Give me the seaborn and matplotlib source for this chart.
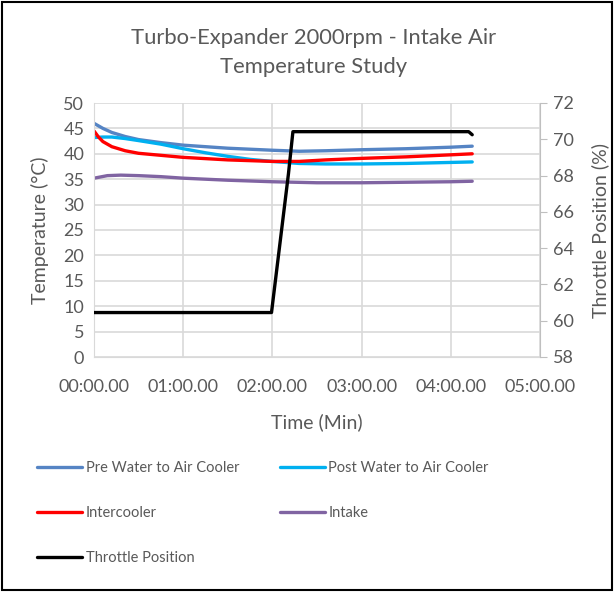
import numpy as np
import matplotlib
matplotlib.use("Agg")
import matplotlib.pyplot as plt
import seaborn as sns
from matplotlib.ticker import FuncFormatter, MultipleLocator
from matplotlib.patches import Rectangle

# Datos (tiempo en minutos)
t_pre = [0.0, 0.1, 0.2, 0.35, 0.5, 0.75, 1.0, 1.5, 2.0, 2.3, 2.6, 3.0, 3.5, 4.0, 4.24]
pre_water = [46.0, 45.0, 44.2, 43.4, 42.8, 42.2, 41.7, 41.1, 40.7, 40.5, 40.6, 40.8, 41.0, 41.3, 41.5]

t_post = [0.0, 0.1, 0.2, 0.35, 0.5, 0.75, 1.0, 1.25, 1.5, 1.75, 2.0, 2.3, 2.6, 3.0, 3.5, 4.0, 4.24]
post_water = [43.2, 43.3, 43.3, 43.0, 42.6, 41.9, 41.0, 40.2, 39.5, 38.9, 38.5, 38.1, 38.0, 38.0, 38.1, 38.3, 38.4]

t_inter = [0.0, 0.05, 0.1, 0.2, 0.35, 0.5, 0.75, 1.0, 1.5, 2.0, 2.3, 2.6, 3.0, 3.5, 4.0, 4.24]
intercooler = [44.5, 43.3, 42.4, 41.4, 40.6, 40.1, 39.7, 39.3, 38.8, 38.5, 38.5, 38.8, 39.1, 39.4, 39.8, 40.0]

t_intake = [0.0, 0.15, 0.3, 0.5, 0.75, 1.0, 1.5, 2.0, 2.5, 3.0, 3.5, 4.0, 4.24]
intake = [35.2, 35.7, 35.8, 35.7, 35.5, 35.2, 34.8, 34.5, 34.3, 34.3, 34.4, 34.5, 34.6]

t_throttle = [0.0, 1.0, 1.99, 2.18, 2.23, 3.0, 4.0, 4.2, 4.24]
throttle = [60.45, 60.45, 60.45, 68.1, 70.42, 70.42, 70.42, 70.42, 70.25]

colores = {
    "Pre Water to Air Cooler": "#5584C4",
    "Post Water to Air Cooler": "#00B0F0",
    "Intercooler": "#FF0000",
    "Intake": "#8064A2",
    "Throttle Position": "#000000",
}

gris = "#595959"
sns.set_style("white")
plt.rcParams["font.family"] = ["Lato", "DejaVu Sans"]

fig = plt.figure(figsize=(6.14, 5.92), dpi=100)
ax = fig.add_axes([94 / 614, 1 - 357 / 592, (540 - 94) / 614, (357 - 103) / 592])
ax2 = ax.twinx()

lw = 2.4
series = [
    (t_pre, pre_water, "Pre Water to Air Cooler"),
    (t_post, post_water, "Post Water to Air Cooler"),
    (t_inter, intercooler, "Intercooler"),
    (t_intake, intake, "Intake"),
]
for x, y, nombre in series:
    sns.lineplot(x=x, y=y, ax=ax, color=colores[nombre], linewidth=lw, label=nombre, legend=False)

sns.lineplot(x=t_throttle, y=throttle, ax=ax2, color=colores["Throttle Position"],
             linewidth=lw, label="Throttle Position", legend=False)

# Ejes
ax.set_xlim(0, 5)
ax.set_ylim(0, 50)
ax2.set_ylim(58, 72)
ax.xaxis.set_major_locator(MultipleLocator(1))
ax.yaxis.set_major_locator(MultipleLocator(5))
ax2.yaxis.set_major_locator(MultipleLocator(2))
ax.xaxis.set_major_formatter(FuncFormatter(lambda v, p: f"{int(v):02d}:00.00"))

ax.grid(True, color="#D9D9D9", linewidth=1.2)
ax2.grid(False)
ax.set_axisbelow(True)

for a in (ax, ax2):
    for s in a.spines.values():
        s.set_visible(False)
ax.spines["left"].set_visible(True)
ax.spines["left"].set_color("#D9D9D9")
ax.spines["bottom"].set_visible(True)
ax.spines["bottom"].set_color("#D9D9D9")
ax2.spines["right"].set_visible(True)
ax2.spines["right"].set_color("#BFBFBF")

ax.tick_params(axis="y", length=0, labelsize=13, labelcolor=gris, pad=7)
ax.tick_params(axis="x", length=0, labelsize=13, labelcolor=gris, pad=16)
ax2.tick_params(axis="y", length=5, color="#BFBFBF", labelsize=13, labelcolor=gris, pad=4)

ax.set_xlabel("Time (Min)", fontsize=14, color=gris, labelpad=13)
ax.set_ylabel("Temperature (°C)", fontsize=14, color=gris, labelpad=10)
ax2.set_ylabel("Throttle Position (%)", fontsize=14, color=gris, labelpad=13)

fig.text(0.511, 0.911, "Turbo-Expander 2000rpm - Intake Air\nTemperature Study",
         ha="center", va="center", fontsize=15.8, color=gris, linespacing=1.6)

# Leyenda (orden por columnas para que quede por filas)
h1, l1 = ax.get_legend_handles_labels()
h2, l2 = ax2.get_legend_handles_labels()
hs = dict(zip(l1 + l2, h1 + h2))
orden = ["Pre Water to Air Cooler", "Intercooler", "Throttle Position",
         "Post Water to Air Cooler", "Intake"]
fig.legend([hs[k] for k in orden], orden, ncol=2, loc="upper left",
           bbox_to_anchor=(0.039, 0.244), frameon=False, fontsize=10.5,
           labelcolor=gris, handlelength=3.1, handletextpad=0.25,
           columnspacing=2.75, labelspacing=2.15)

fig.patches.append(Rectangle((0.003, 0.003), 0.994, 0.994, transform=fig.transFigure,
                             fill=False, edgecolor="black", linewidth=1.5))

fig.savefig("out.png", dpi=100)
